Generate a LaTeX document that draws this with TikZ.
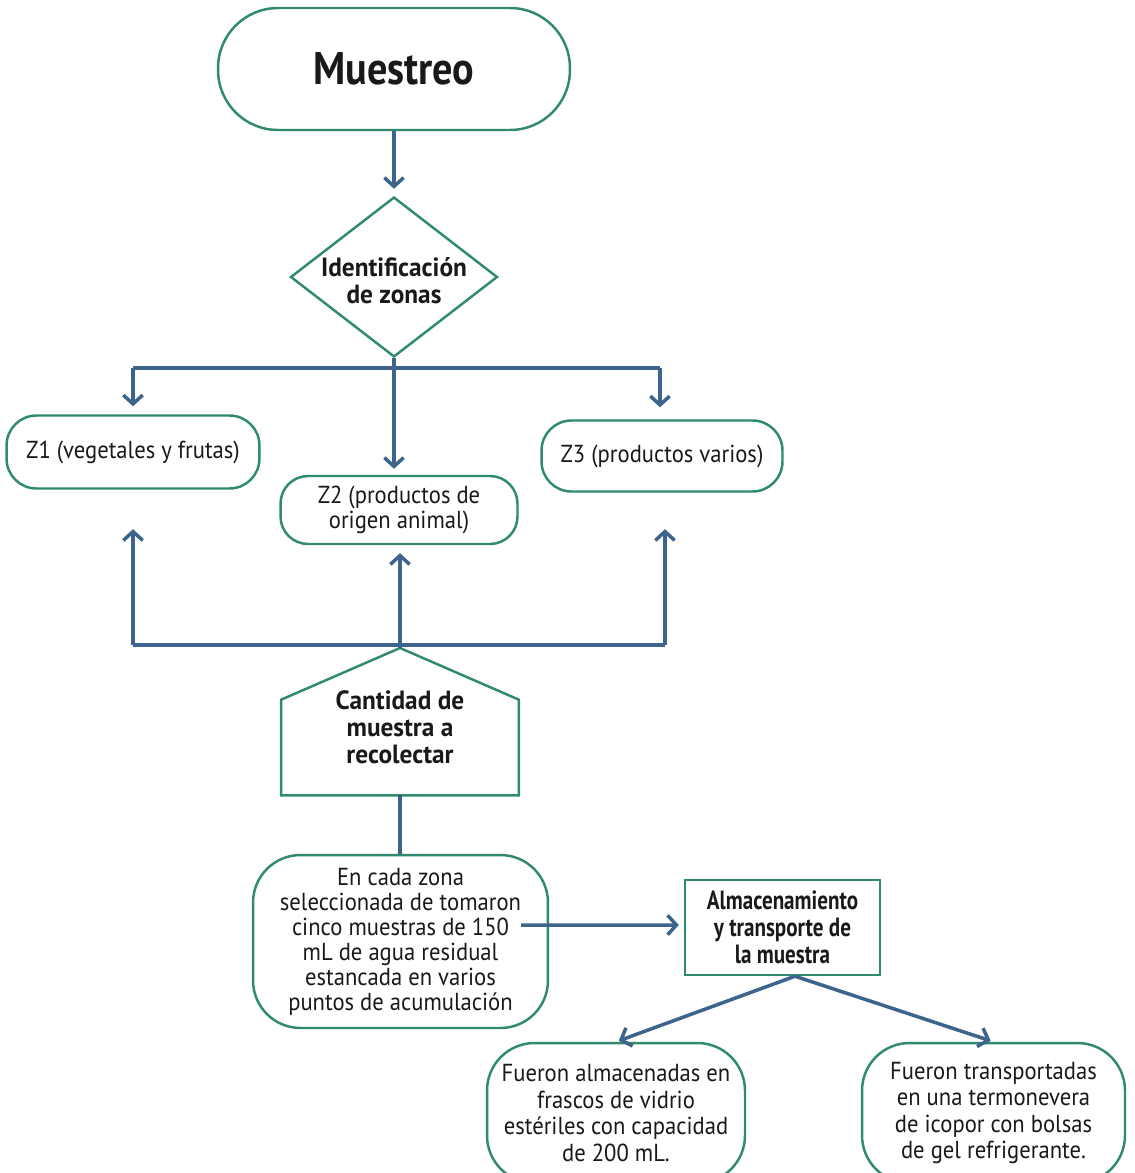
\documentclass[tikz,border=0pt]{standalone}
\usepackage{fontspec}
\setmainfont{PT Sans}[FakeStretch=0.92]
\newfontfamily\titlefont{PT Sans}[FakeStretch=0.96]
\newfontfamily\titlenarrow{PT Sans}[FakeStretch=0.8]
\newfontfamily\headfont{PT Sans}[FakeStretch=0.88]
\usetikzlibrary{arrows.meta,shapes.geometric,calc}
\definecolor{bord}{RGB}{48,138,110}
\definecolor{arrc}{RGB}{60,100,140}
\definecolor{txt}{RGB}{25,25,25}
\tikzset{
  box/.style={draw=bord, line width=1.4pt, align=center, text=txt,
    font=\fontsize{14}{14.5}\selectfont, inner sep=0pt},
  ttl/.style={font=\titlefont\bfseries\fontsize{15}{15.5}\selectfont, align=center, text=txt},
  arr/.style={draw=arrc, line width=2pt, -{Straight Barb[length=5pt,width=11pt]}},
  ln/.style={draw=arrc, line width=2.6pt},
}
\begin{document}
\begin{tikzpicture}[x=0.02cm,y=-0.02cm]
\useasboundingbox (0,0) rectangle (1134,1173);
\clip (0,0) rectangle (1134,1173);
\fill[white] (0,0) rectangle (1134,1173);

% nodes
\node[box, minimum width=7.04cm, minimum height=2.44cm, rounded corners=1.2cm,
  font=\headfont\bfseries\fontsize{26}{28}\selectfont] (m) at (394,69) {Muestreo};

\node[draw=bord, line width=1.4pt, diamond, aspect=1.29, inner sep=0pt,
  minimum width=4.14cm, minimum height=3.2cm] (id) at (394,277) {};
\node[ttl] (idt) at (394,281) {Identificación\\de zonas};

\node[box, minimum width=5.06cm, minimum height=1.46cm, rounded corners=0.6cm] (z1) at (133,452) {Z1 (vegetales y frutas)};
\node[box, minimum width=4.74cm, minimum height=1.36cm, rounded corners=0.55cm] (z2) at (399,510) {Z2 (productos de\\origen animal)};
\node[box, minimum width=4.82cm, minimum height=1.42cm, rounded corners=0.6cm] (z3) at (662,456) {Z3 (productos varios)};

\node[minimum width=4.74cm, minimum height=1.9cm, inner sep=0pt] (c) at (400,747.5) {};
\coordinate (cap) at (400,648);
\draw[draw=bord, line width=1.4pt] (c.south west) -- (c.north west) -- (cap) -- (c.north east) -- (c.south east) -- cycle;
\node[ttl] (ct) at (400,727) {Cantidad de\\muestra a\\recolectar};

\node[box, minimum width=5.9cm, minimum height=3.46cm, rounded corners=0.95cm,
  font=\fontsize{14}{14.2}\selectfont] (e) at (400.5,941.5)
  {En cada zona\\seleccionada de tomaron\\cinco muestras de 150\\mL de agua residual\\estancada en varios\\puntos de acumulación};

\node[box, ttl, font=\titlenarrow\bfseries\fontsize{15}{15.5}\selectfont,
  minimum width=3.9cm, minimum height=1.9cm] (a) at (782.5,927.5)
  {Almacenamiento\\y transporte de\\la muestra};

\node[box, minimum width=5.16cm, minimum height=2.8cm, rounded corners=0.95cm,
  font=\fontsize{14}{15}\selectfont] (f1) at (616,1113)
  {Fueron almacenadas en\\frascos de vidrio\\estériles con capacidad\\de 200 mL.};
\node[box, minimum width=5.26cm, minimum height=2.8cm, rounded corners=0.95cm,
  font=\fontsize{14}{15}\selectfont] (f2) at (993.5,1113)
  {Fueron transportadas\\en una termonevera\\de icopor con bolsas\\de gel refrigerante.};

% connectors
\draw[arr, shorten >=0.14cm] (m.south) -- (id.north);

\coordinate (b1L) at (133,368);
\coordinate (b1R) at (660,368);
\draw[ln] (b1L) -- (b1R);
\draw[arr, shorten >=0.12cm] (id.south) -- (id.south |- z2.north);
\draw[arr, shorten >=0.16cm] (b1L) -- (b1L |- z1.north);
\draw[arr, shorten >=0.24cm] (b1R) -- (b1R |- z3.north);

\coordinate (b2L) at (133,645);
\coordinate (b2R) at (665,645);
\draw[ln] (b2L) -- (b2R);
\draw[arr, shorten >=0.79cm] (b2L) -- (b2L |- z1.south);
\draw[arr, shorten >=0.73cm] (b2R) -- (b2R |- z3.south);
\draw[arr, shorten >=0.16cm] (cap) -- (cap |- z2.south);

\draw[ln] (c.south) -- (c.south |- e.north);
\draw[arr, shorten >=0.1cm] ([xshift=-0.56cm,yshift=0.33cm]e.east) -- ([yshift=0.05cm]a.west);
\draw[arr, shorten >=0.06cm] ([xshift=0.25cm]a.south) -- (f1.north);
\draw[arr, shorten >=0.06cm] ([xshift=0.25cm]a.south) -- (f2.north);
\end{tikzpicture}
\end{document}
